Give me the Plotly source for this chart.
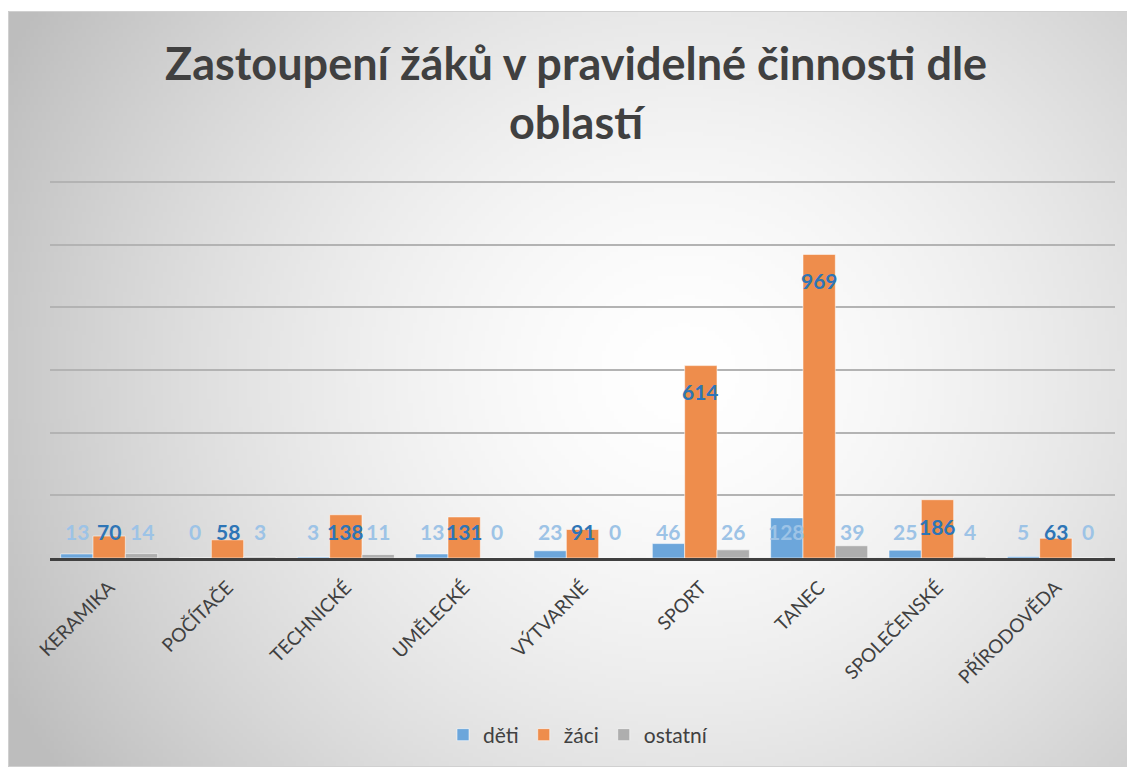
import base64, struct, zlib
import numpy as np
import plotly.graph_objects as go

# ---------------- data ----------------
categories = ["KERAMIKA", "POČÍTAČE", "TECHNICKÉ", "UMĚLECKÉ", "VÝTVARNÉ",
              "SPORT", "TANEC", "SPOLEČENSKÉ", "PŘÍRODOVĚDA"]
deti = [13, 0, 3, 13, 23, 46, 128, 25, 5]
zaci = [70, 58, 138, 131, 91, 614, 969, 186, 63]
ostatni = [14, 3, 11, 0, 0, 26, 39, 4, 0]
series_names = ["děti", "žáci", "ostatní"]
y_ticks = [0, 200, 400, 600, 800, 1000, 1200]
title_text = "Zastoupení žáků v pravidelné činnosti dle<br>oblastí"

# ---------------- style ----------------
W, H = 1127, 759
ML, MR, MT, MB = 42, 20, 169, 209
PW, PH = W - ML - MR, H - MT - MB
colors = ["#6CA6DB", "#EE8D4C", "#AEAEAE"]
label_colors = ["#9DC3E6", "#2E75B6", "#9DC3E6"]
FONT = "Lato"
BARGAP = 0.18
TEXT = "#404040"
Y_RANGE = 1216
LABEL_DROP = 84
LABEL_MIN = 83

# chart area box (figure pixels)
CX0, CY0 = 0, 3


def gradient_png(w, h):
    ys, xs = np.mgrid[0:h, 0:w]
    fx = xs / (w - 1)
    fy = ys / (h - 1)
    nx = (fx - 0.60) / 0.62
    ny = (fy - 0.48) / 0.85
    d = np.sqrt(nx ** 2 + ny ** 2)
    d = np.clip(d, 0, 1.1)
    v = 255 - 66 * (d / 1.1) ** 1.6
    v = np.clip(v, 0, 255).astype(np.uint8)
    rgb = np.stack([v, v, v], axis=-1)
    raw = b"".join(b"\x00" + rgb[r].tobytes() for r in range(h))

    def chunk(tag, data):
        c = struct.pack(">I", len(data)) + tag + data
        return c + struct.pack(">I", zlib.crc32(tag + data) & 0xffffffff)

    png = b"\x89PNG\r\n\x1a\n"
    png += chunk(b"IHDR", struct.pack(">IIBBBBB", w, h, 8, 2, 0, 0, 0))
    png += chunk(b"IDAT", zlib.compress(raw, 9))
    png += chunk(b"IEND", b"")
    return "data:image/png;base64," + base64.b64encode(png).decode()


xs = list(range(len(categories)))
fig = go.Figure()
all_series = [deti, zaci, ostatni]
for name, vals, col in zip(series_names, all_series, colors):
    fig.add_trace(go.Bar(
        x=xs, y=vals, name=name,
        marker=dict(color=col, line=dict(color="rgba(255,255,255,0.55)", width=1)),
        hoverinfo="skip",
    ))

# data labels
bar_w = (1 - BARGAP) / len(all_series)
for k, (vals, lc) in enumerate(zip(all_series, label_colors)):
    off = (k - (len(all_series) - 1) / 2) * bar_w
    for i, v in enumerate(vals):
        fig.add_annotation(
            x=xs[i] + off, y=max(v - LABEL_DROP, LABEL_MIN),
            text=f"<b>{v}</b>", showarrow=False,
            font=dict(family=FONT, size=21, color=lc),
            xanchor="center", yanchor="middle",
        )

# title (two centred lines)
fig.add_annotation(
    xref="paper", yref="paper",
    x=(568 - ML) / PW, y=(H - MB - 84) / PH,
    text=f"<b>{title_text}</b>", showarrow=False,
    xanchor="center", yanchor="middle", align="center",
    font=dict(family=FONT, size=45, color=TEXT),
)

# gradient background image (covers chart area)
fig.add_layout_image(dict(
    source=gradient_png(280, 190),
    xref="paper", yref="paper",
    x=(CX0 - ML) / PW, y=(H - MB - CY0) / PH,
    sizex=(W - CX0) / PW, sizey=(H - CY0) / PH,
    xanchor="left", yanchor="top", sizing="stretch", layer="below",
))
fig.add_shape(type="rect", xref="paper", yref="paper",
              x0=(CX0 + 0.5 - ML) / PW, x1=(W - 0.5 - ML) / PW,
              y0=(H - MB - CY0 - 0.5) / PH, y1=-(MB - 0.5) / PH,
              line=dict(color="#d0d0d0", width=1), layer="below")

fig.update_layout(
    width=W, height=H,
    margin=dict(l=ML, r=MR, t=MT, b=MB, autoexpand=False),
    paper_bgcolor="white", plot_bgcolor="rgba(0,0,0,0)",
    barmode="group", bargap=BARGAP, bargroupgap=0,
    legend=dict(orientation="h", x=(570 - ML) / PW, xanchor="center",
                y=(H - MB - 727) / PH, yanchor="middle",
                font=dict(family=FONT, size=21, color=TEXT),
                bgcolor="rgba(0,0,0,0)", itemwidth=30, traceorder="normal"),
    showlegend=True,
    font=dict(family=FONT, color=TEXT),
)
fig.update_xaxes(
    range=[-0.5, len(categories) - 0.5],
    tickvals=xs, ticktext=categories, tickangle=-45,
    tickfont=dict(family=FONT, size=19, color=TEXT),
    ticklabelstandoff=8,
    showline=True, linecolor="#404040", linewidth=3,
    showgrid=False, zeroline=False, ticks="", fixedrange=True,
)
fig.update_yaxes(
    range=[0, Y_RANGE], tickvals=y_ticks, showticklabels=False,
    showgrid=True, gridcolor="#b3b3b3", gridwidth=1.5,
    zeroline=False, showline=False, fixedrange=True,
)

fig.write_html("out.html")
